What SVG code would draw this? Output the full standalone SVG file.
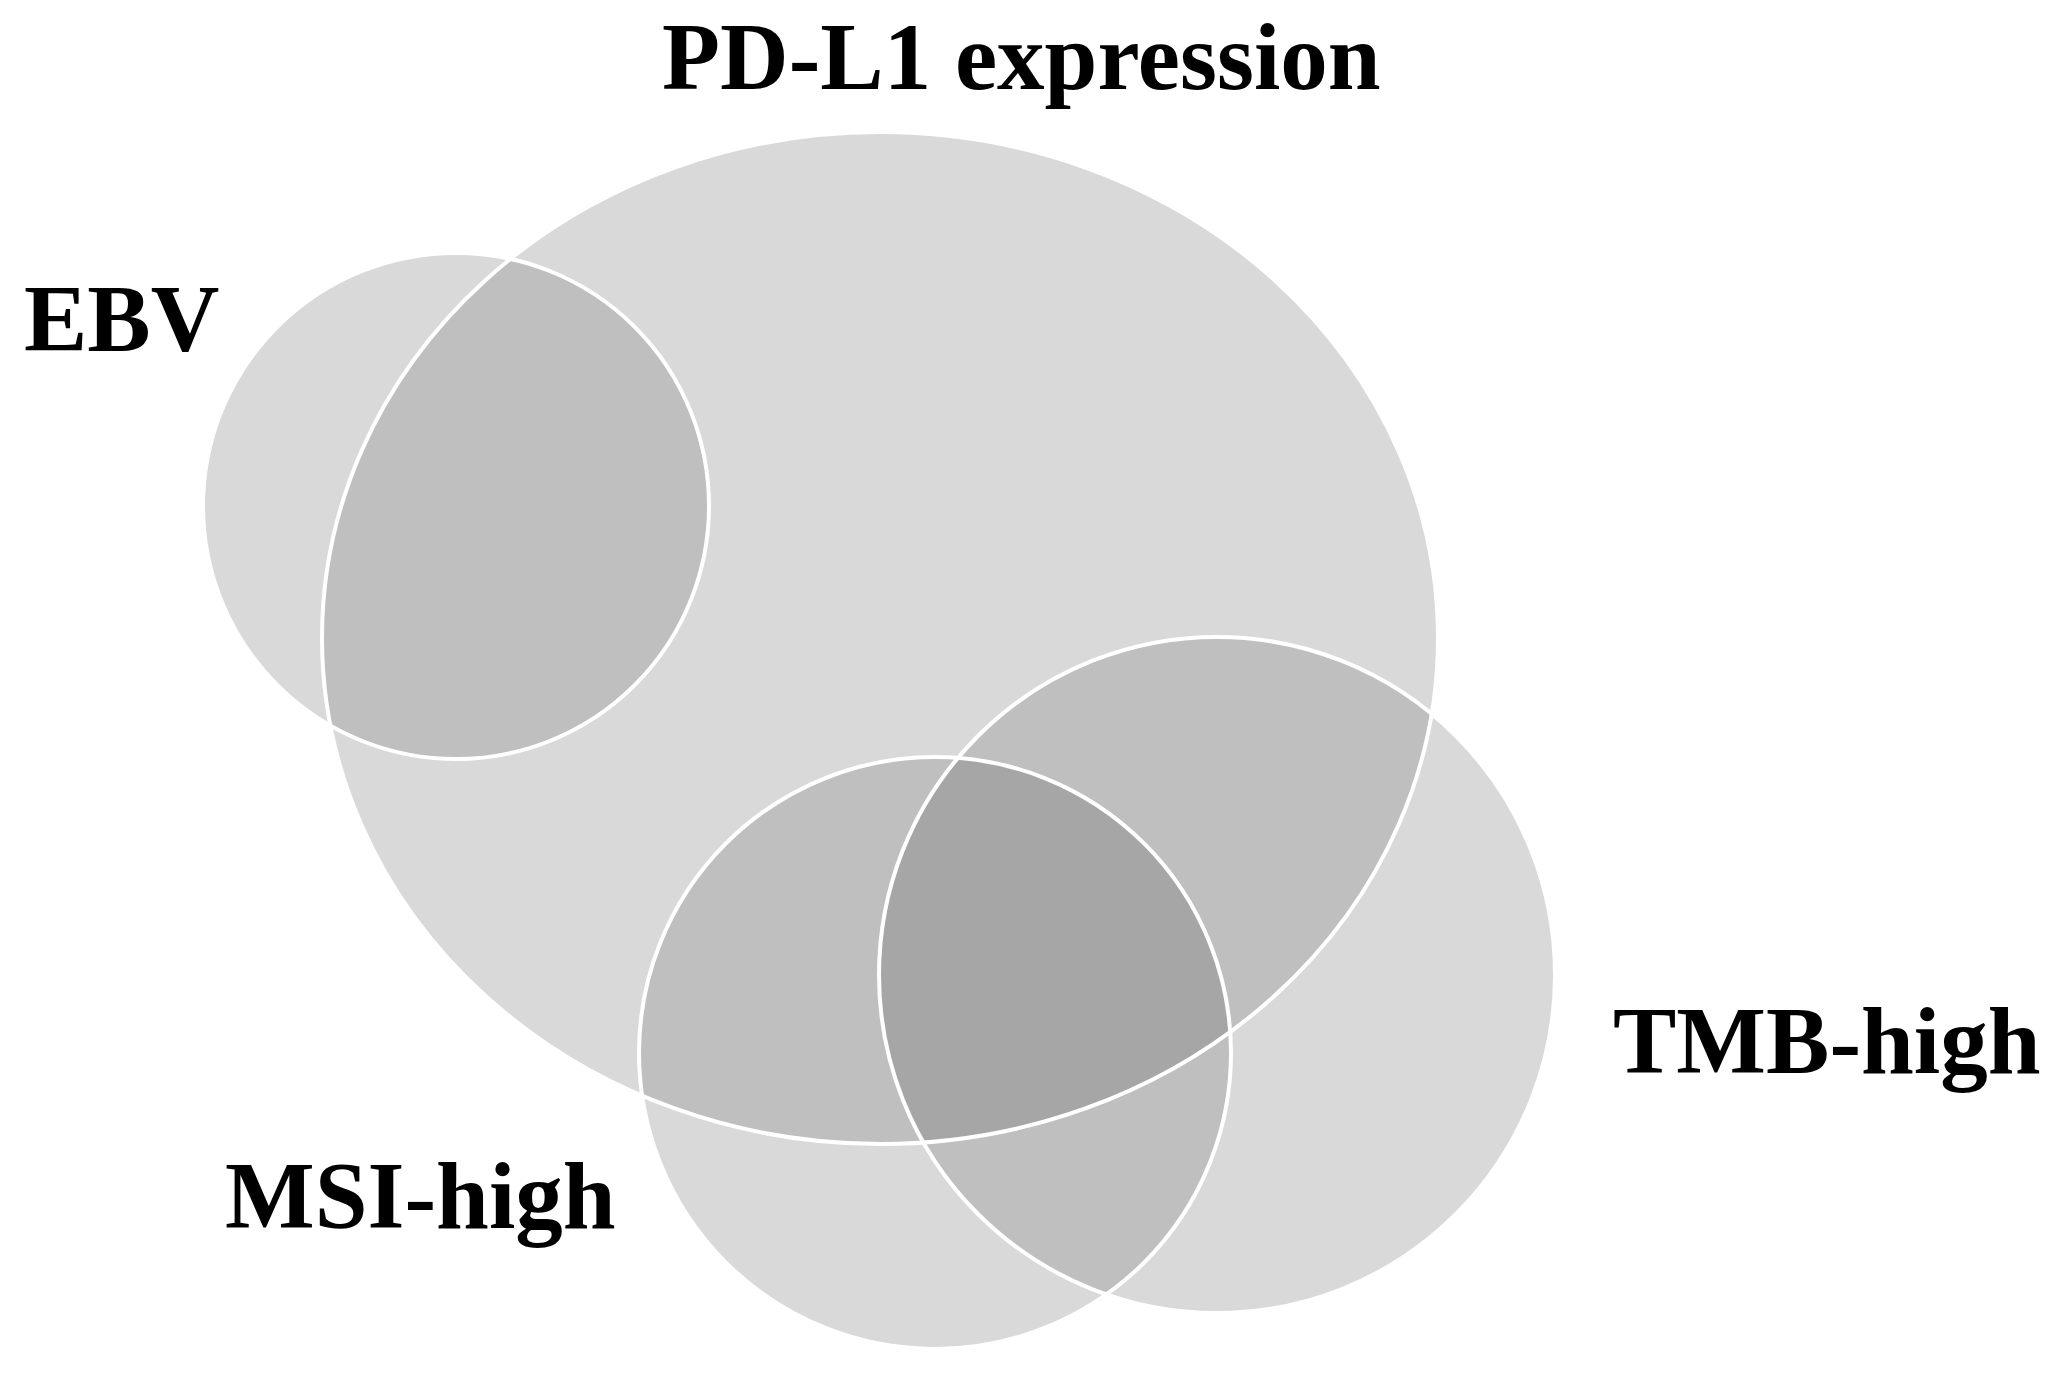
<svg xmlns="http://www.w3.org/2000/svg" width="2062" height="1375" viewBox="0 0 2062 1375">
<style>
  .set { fill: #d9d9d9; }
  .two { fill: #bfbfbf; }
  .three { fill: #a6a6a6; }
  .edge { fill: none; stroke: #ffffff; stroke-width: 4; }
  .label { font-family: "Liberation Serif", "Times New Roman", serif; font-weight: bold; font-size: 95px; fill: #000000; }
</style>
<defs>
  <clipPath id="cPD"><ellipse cx="880" cy="638" rx="558" ry="506"/></clipPath>
  <clipPath id="cEBV"><circle cx="456" cy="506" r="253"/></clipPath>
  <clipPath id="cMSI"><circle cx="935" cy="1053" r="296"/></clipPath>
  <clipPath id="cTMB"><circle cx="1217" cy="975" r="338"/></clipPath>
</defs>
<rect width="2062" height="1375" fill="#ffffff"/>
<g id="node-pdl1">
  <ellipse class="set" cx="880" cy="638" rx="558" ry="506"/>
  <text class="label" x="662" y="89">PD-L1 expression</text>
</g>
<g id="node-ebv">
  <circle class="set" cx="456" cy="506" r="253"/>
  <text class="label" x="24" y="351">EBV</text>
</g>
<g id="node-msi">
  <circle class="set" cx="935" cy="1053" r="296"/>
  <text class="label" x="225" y="1228">MSI-high</text>
</g>
<g id="node-tmb">
  <circle class="set" cx="1217" cy="975" r="338"/>
  <text class="label" x="1613" y="1073">TMB-high</text>
</g>
<g id="overlaps">
  <ellipse class="two" cx="880" cy="638" rx="558" ry="506" clip-path="url(#cEBV)"/>
  <ellipse class="two" cx="880" cy="638" rx="558" ry="506" clip-path="url(#cMSI)"/>
  <ellipse class="two" cx="880" cy="638" rx="558" ry="506" clip-path="url(#cTMB)"/>
  <circle class="two" cx="1217" cy="975" r="338" clip-path="url(#cMSI)"/>
  <g clip-path="url(#cMSI)">
    <circle class="three" cx="1217" cy="975" r="338" clip-path="url(#cPD)"/>
  </g>
</g>
<g id="connectors">
  <ellipse class="edge" cx="880" cy="638" rx="558" ry="506"/>
  <circle class="edge" cx="456" cy="506" r="253"/>
  <circle class="edge" cx="935" cy="1053" r="296"/>
  <circle class="edge" cx="1217" cy="975" r="338"/>
</g>
</svg>
